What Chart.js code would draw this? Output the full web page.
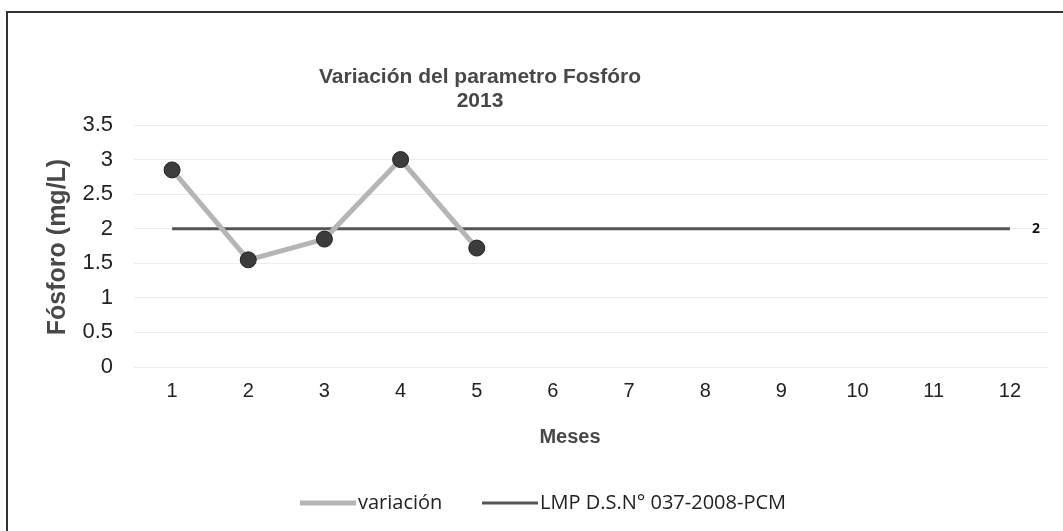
<!DOCTYPE html>
<html lang="es">
<head>
<meta charset="UTF-8" />
<script src="https://cdn.jsdelivr.net/npm/chart.js@4.4.1/dist/chart.umd.min.js"></script>
<style>
	html, body { margin: 0; padding: 0; background: #fff; }
	#wrap { width: 1063px; height: 531px; }
</style>
</head>
<body>
<div id="wrap"><canvas id="c"></canvas></div>
<script>
const meses = ['1', '2', '3', '4', '5', '6', '7', '8', '9', '10', '11', '12']
const variacion = [2.85, 1.55, 1.85, 3.0, 1.72]
const lmp = [2, 2, 2, 2, 2, 2, 2, 2, 2, 2, 2, 2]
const yTicks = [0, 0.5, 1, 1.5, 2, 2.5, 3, 3.5]

// draws title, axis titles, legend, frame and the end label
const decor = {
	id: 'decor',
	afterDraw(chart) {
		const ctx = chart.ctx
		ctx.save()
		ctx.strokeStyle = '#333'
		ctx.lineWidth = 2
		ctx.beginPath()
		ctx.moveTo(7, 531)
		ctx.lineTo(7, 12)
		ctx.lineTo(1063, 12)
		ctx.stroke()

		ctx.fillStyle = '#484848'
		ctx.textAlign = 'center'
		ctx.textBaseline = 'middle'
		ctx.font = 'bold 21px "Liberation Sans", Arial, sans-serif'
		ctx.fillText('Variación del parametro Fosfóro', 480, 77)
		ctx.fillText('2013', 480, 101)

		ctx.font = 'bold 20px "Liberation Sans", Arial, sans-serif'
		ctx.fillText('Meses', 570, 437)

		ctx.save()
		ctx.translate(58, 247)
		ctx.rotate(-Math.PI / 2)
		ctx.font = 'bold 25px "Liberation Sans", Arial, sans-serif'
		ctx.fillText('Fósforo (mg/L)', 0, 0)
		ctx.restore()

		// label at last point of LMP
		const meta = chart.getDatasetMeta(1)
		const last = meta.data[meta.data.length - 1]
		ctx.fillStyle = '#111'
		ctx.font = 'bold 14px "Open Sans", sans-serif'
		ctx.textAlign = 'left'
		ctx.fillText(String(lmp[lmp.length - 1]), last.x + 22, last.y)

		// legend
		const items = chart.data.datasets
		const starts = [300, 482]
		const y = 503
		ctx.font = '20px "Open Sans", sans-serif'
		items.forEach((ds, i) => {
			const x = starts[i]
			ctx.strokeStyle = ds.borderColor
			ctx.lineWidth = ds.borderWidth
			ctx.beginPath()
			ctx.moveTo(x, y)
			ctx.lineTo(x + 56, y)
			ctx.stroke()
			ctx.fillStyle = '#222'
			ctx.fillText(ds.label, x + 58, y)
		})
		ctx.restore()
	},
}

new Chart(document.getElementById('c'), {
	type: 'line',
	data: {
		labels: meses,
		datasets: [
			{
				label: 'variación',
				data: variacion,
				borderColor: '#b5b5b5',
				borderWidth: 5,
				pointRadius: 8,
				pointHoverRadius: 8,
				pointBackgroundColor: '#3c3c3c',
				pointBorderColor: '#222',
				pointBorderWidth: 1,
				order: 0,
			},
			{
				label: 'LMP D.S.N° 037-2008-PCM',
				data: lmp,
				borderColor: '#555',
				borderWidth: 3,
				pointRadius: 0,
				order: 1,
			},
		],
	},
	options: {
		responsive: true,
		maintainAspectRatio: false,
		animation: false,
		layout: { padding: { top: 125, right: 15, left: 0, bottom: 0 } },
		plugins: {
			legend: { display: false },
			title: { display: false },
			tooltip: { enabled: false },
		},
		scales: {
			x: {
				offset: true,
				grid: { display: false, drawTicks: false },
				border: { display: false },
				ticks: { padding: 12, color: '#222', font: { size: 20, family: '"Liberation Sans", Arial, sans-serif' } },
				afterFit: (s) => { s.height = 164 },
			},
			y: {
				min: 0,
				max: 3.5,
				afterBuildTicks: (s) => { s.ticks = yTicks.map((v) => ({ value: v })) },
				grid: { color: '#ececec', lineWidth: 1, drawTicks: false },
				border: { display: false },
				ticks: {
					padding: 21,
					color: '#222',
					font: { size: 22, family: '"Liberation Sans", Arial, sans-serif' },
					callback: (v) => String(v),
				},
				afterFit: (s) => { s.width = 134 },
			},
		},
	},
	plugins: [decor],
})
</script>
</body>
</html>
